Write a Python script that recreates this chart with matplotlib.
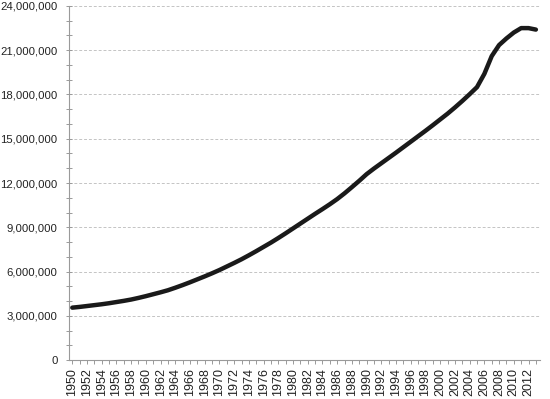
import numpy as np
import matplotlib
matplotlib.use("Agg")
import matplotlib.pyplot as plt
from matplotlib.ticker import MultipleLocator, FuncFormatter

## data (millions)
years = list(range(1950, 2014))
values_m = [3.55, 3.60, 3.66, 3.72, 3.78, 3.85, 3.93, 4.01, 4.10, 4.21,
            4.33, 4.46, 4.59, 4.73, 4.90, 5.08, 5.27, 5.47, 5.67, 5.88,
            6.10, 6.34, 6.58, 6.83, 7.10, 7.38, 7.67, 7.96, 8.27, 8.59,
            8.92, 9.25, 9.58, 9.91, 10.23, 10.56, 10.91, 11.30, 11.72, 12.15,
            12.60, 12.98, 13.34, 13.70, 14.06, 14.43, 14.80, 15.17, 15.54, 15.92,
            16.31, 16.70, 17.12, 17.56, 18.02, 18.50, 19.40, 20.60, 21.35, 21.80,
            22.20, 22.50, 22.50, 22.40]
values = [v * 1e6 for v in values_m]
tick_years = [y for y in years if y % 2 == 0]

plt.rcParams['font.family'] = ['Liberation Sans', 'DejaVu Sans']

fig = plt.figure(figsize=(5.5, 3.99), dpi=100)
ax = fig.add_axes([0.1247, 0.0977, 0.981 - 0.1247, 0.985 - 0.0977])

ax.plot(years, values, color='#1a1a1a', lw=3.2, solid_capstyle='round')

ax.set_xlim(1949.5, 2013.5)
ax.set_ylim(0, 24e6)

# y axis
ax.yaxis.set_major_locator(MultipleLocator(3e6))
ax.yaxis.set_minor_locator(MultipleLocator(1e6))
ax.yaxis.set_major_formatter(FuncFormatter(lambda v, p: f'{int(v):,}'))
ax.grid(axis='y', which='major', color='#c4c4c4', ls=(0, (3, 2)), lw=0.7)

# x axis: tick every year, label every other year
ax.set_xticks(years, minor=True)
ax.set_xticks(tick_years)
ax.set_xticklabels([str(y) for y in tick_years], rotation=90)

for s in ['top', 'right']:
    ax.spines[s].set_visible(False)
for s in ['left', 'bottom']:
    ax.spines[s].set_color('#9a9a9a')
    ax.spines[s].set_linewidth(0.8)

ax.tick_params(axis='y', which='both', direction='inout', length=4, width=0.7,
               color='#9a9a9a', labelsize=8.2, labelcolor='#222222', pad=6)
ax.tick_params(axis='x', which='both', direction='out', length=3, width=0.7,
               color='#9a9a9a', labelsize=9, labelcolor='#222222', pad=3)

fig.savefig('out.png', dpi=100)
